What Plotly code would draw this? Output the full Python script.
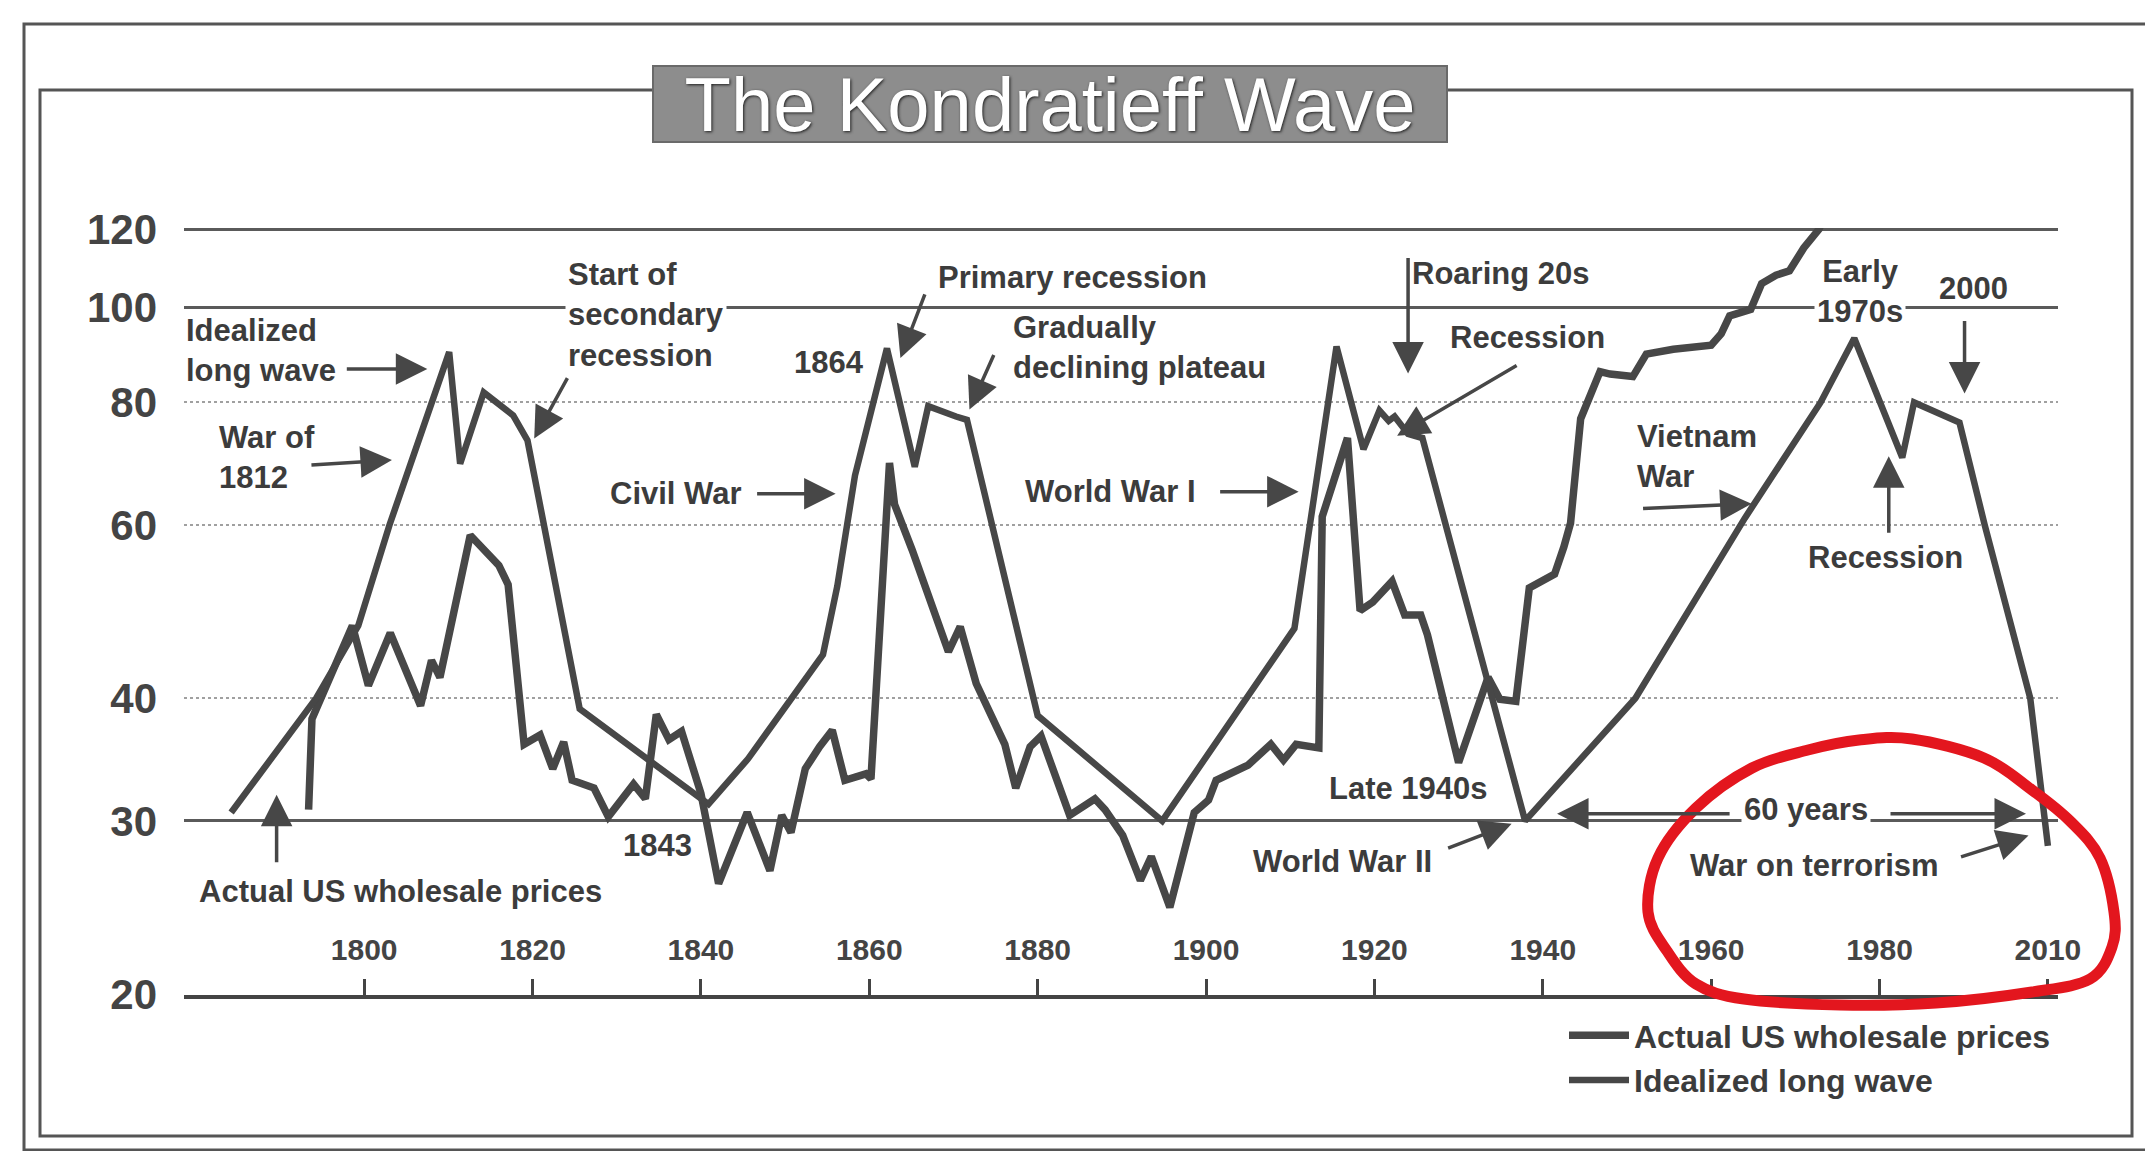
import numpy as np
import plotly.graph_objects as go

# ---------------- data ----------------
actual_year = [1793.4, 1793.8, 1798.6, 1800.5, 1803.1, 1806.7, 1808.0, 1809.0, 1812.6, 1816.0,
               1817.1, 1818.6, 1819.0, 1820.9, 1822.4, 1823.7, 1824.7, 1827.3, 1829.0, 1832.0,
               1833.4, 1834.7, 1836.2, 1837.7, 1840.0, 1842.1, 1845.5, 1848.2, 1849.6, 1850.7,
               1852.4, 1854.1, 1855.6, 1857.1, 1859.6, 1860.2, 1862.4, 1863.0, 1865.1, 1869.4,
               1870.8, 1872.7, 1876.1, 1877.4, 1879.1, 1880.4, 1883.8, 1886.8, 1888.0, 1890.1,
               1892.2, 1893.5, 1895.7, 1898.6, 1900.3, 1901.2, 1905.0, 1907.7, 1909.2, 1910.7,
               1913.4, 1913.8, 1916.8, 1918.3, 1919.8, 1922.1, 1923.6, 1925.5, 1926.3, 1930.0,
               1933.5, 1934.9, 1936.8, 1938.4, 1941.4, 1942.5, 1943.3, 1944.5, 1946.8, 1948.0,
               1950.7, 1952.3, 1955.5, 1960.0, 1961.2, 1962.2, 1964.7, 1966.0, 1967.7, 1969.3,
               1971.0, 1972.8, 1973.5]
actual_value = [30.8, 38.1, 47.4, 41.2, 46.6, 39.3, 43.7, 42.0, 58.6, 54.6,
                52.2, 39.9, 35.9, 36.7, 33.9, 36.1, 33.0, 32.4, 30.3, 32.7,
                31.6, 38.5, 36.3, 37.0, 32.0, 25.9, 30.6, 26.7, 30.4, 29.2,
                33.9, 35.7, 37.1, 33.0, 33.5, 33.1, 69.4, 63.0, 56.6, 44.6,
                47.3, 41.4, 35.9, 32.4, 35.7, 36.6, 30.4, 31.6, 30.8, 29.0,
                26.1, 27.6, 24.5, 30.6, 31.5, 33.0, 34.2, 35.9, 34.6, 35.9,
                35.6, 61.2, 73.6, 49.1, 50.1, 52.6, 48.6, 48.6, 46.4, 34.4,
                42.0, 39.9, 39.7, 51.8, 53.5, 57.0, 60.3, 77.0, 86.0, 85.5,
                85.0, 89.6, 90.6, 91.5, 94.0, 98.0, 99.5, 105.7, 107.8, 108.9,
                114.9, 120.0, 124.0]

ideal_year = [1784.2, 1794.3, 1799.3, 1803.0, 1810.1, 1811.4, 1814.2, 1817.7, 1819.4, 1825.6,
              1840.9, 1845.6, 1854.5, 1856.2, 1858.3, 1862.1, 1865.4, 1867.0, 1870.3, 1871.6,
              1880.0, 1894.8, 1910.5, 1915.5, 1918.7, 1920.6, 1921.7, 1922.4, 1924.0, 1925.7,
              1937.9, 1951.0, 1964.0, 1973.0, 1977.0, 1982.7, 1984.1, 1989.5, 1992.5, 1997.9,
              2000.0]
ideal_value = [30.6, 40.0, 47.4, 60.0, 90.0, 69.3, 81.9, 77.6, 73.2, 39.0,
               31.2, 34.7, 44.3, 52.0, 67.4, 90.8, 68.8, 79.3, 77.4, 76.8,
               38.4, 30.0, 47.1, 91.2, 71.7, 78.5, 76.6, 77.4, 74.3, 73.6,
               30.0, 40.0, 61.0, 80.0, 93.0, 70.3, 80.0, 76.3, 60.0, 40.0,
               28.3]

x_tick_years = [1800, 1820, 1840, 1860, 1880, 1900, 1920, 1940, 1960, 1980, 2000]
x_tick_labels = ["1800", "1820", "1840", "1860", "1880", "1900", "1920", "1940", "1960", "1980", "2010"]
y_tick_values = [20, 30, 40, 60, 80, 100, 120]
y_tick_labels = ["20", "30", "40", "60", "80", "100", "120"]
grid_dotted = [40, 60, 80]
grid_solid = [30, 100, 120]

# ---------------- styling / layout helpers ----------------
W, H = 2153, 1151
PL, PR, PT, PB = 176, 2050, 220, 987
LINE = '#474747'
TEXT = '#3c3c3c'
FAM = 'Liberation Sans, Arial, sans-serif'
FONT = dict(family=FAM, size=31, color=TEXT, weight='bold')
YRANGE = [np.log10(19.95), np.log10(120.4)]
XRANGE = [1778.6, 2001.2]


def px_x(px):
    return (px - PL) / (PR - PL)


def px_y(py):
    return (PB - py) / (PB - PT)


fig = go.Figure()
fig.add_trace(go.Scatter(x=actual_year, y=actual_value, mode='lines',
                         name='Actual US wholesale prices',
                         line=dict(color=LINE, width=7.5), hoverinfo='skip'))
fig.add_trace(go.Scatter(x=ideal_year, y=ideal_value, mode='lines',
                         name='Idealized long wave',
                         line=dict(color=LINE, width=6.5), hoverinfo='skip'))
# empty helper traces so the grid-only overlay axes are drawn
fig.add_trace(go.Scatter(x=[], y=[], yaxis='y2', showlegend=False, hoverinfo='skip'))
fig.add_trace(go.Scatter(x=[], y=[], yaxis='y3', showlegend=False, hoverinfo='skip'))

ann = []


def note(text, year, val, bg=None, **kw):
    d = dict(x=year, y=float(np.log10(val)), xref='x', yref='y', text=text,
             showarrow=False, font=FONT)
    if bg:
        d.update(bgcolor=bg, borderpad=2)
    d.update(kw)
    ann.append(d)


def arrow(year, val, ax, ay):
    ann.append(dict(x=year, y=float(np.log10(val)), xref='x', yref='y', text='',
                    showarrow=True, ax=ax, ay=ay, arrowhead=2, arrowsize=1.8,
                    arrowwidth=3.5, arrowcolor=LINE))


note('Idealized<br>long wave', 1778.6, 90.4, xanchor='left', align='left')
arrow(1807.5, 86.5, -82, 0)
note('War of<br>1812', 1782.5, 70.3, xanchor='left', align='left')
arrow(1803.3, 69.9, -82, 5)
note('Start of<br>secondary<br>recession', 1823.8, 98.1, bg='white', xanchor='left', align='left')
arrow(1820.2, 73.5, 34, -62)
note('Primary recession', 1884.1, 107.3)
arrow(1863.7, 88.8, 25, -65)
note('1864', 1855.2, 87.9)
note('Gradually<br>declining plateau', 1876.8, 91.0, xanchor='left', align='left')
arrow(1871.9, 78.7, 25, -56)
note('Civil War', 1837.1, 64.6)
arrow(1856.0, 64.6, -80, 0)
note('World War I', 1888.7, 64.9)
arrow(1911.0, 64.9, -80, 0)
note('Roaring 20s', 1935.0, 108.3)
arrow(1924.0, 85.6, 0, -117)
note('Recession', 1938.2, 93.1)
arrow(1922.7, 74.0, 121, -71)
note('Early<br>1970s', 1977.7, 103.7, bg='white')
note('2000', 1991.2, 104.6)
arrow(1990.1, 81.7, 0, -74)
note('Vietnam<br>War', 1951.0, 70.5, xanchor='left', align='left')
arrow(1964.8, 63.1, -110, 5)
note('Recession', 1980.7, 55.6)
arrow(1981.1, 70.5, 0, 78)
note('1843', 1834.8, 28.3)
note('Actual US wholesale prices', 1804.3, 25.4)
arrow(1789.6, 31.9, 0, 69)
note('Late 1940s', 1924.0, 32.4)
note('World War II', 1916.2, 27.3)
arrow(1936.3, 29.8, -65, 25)
note('60 years', 1971.3, 30.8, bg='white')
arrow(1941.7, 30.5, 174, 0)
arrow(1997.4, 30.5, -137, 0)
note('War on terrorism', 1972.3, 27.0)
arrow(1997.7, 29.0, -69, 22)

# title box
ann.append(dict(xref='paper', yref='paper', x=px_x(1042), y=px_y(96),
                text='The Kondratieff Wave', showarrow=False,
                font=dict(family=FAM, size=76, color='white', shadow='1px 1px 3px #1e1e1e'),
                bgcolor='#8d8d8d', bordercolor='#6a6a6a', borderwidth=2,
                width=790, height=72, xanchor='center', yanchor='middle'))

shapes = []
# double frame
for (x0, y0, x1, y1) in [(16, 16, 2140, 1142), (32, 82, 2124, 1128)]:
    shapes.append(dict(type='rect', xref='paper', yref='paper', layer='below',
                       x0=px_x(x0), x1=px_x(x1), y0=px_y(y1), y1=px_y(y0),
                       line=dict(color='#555555', width=3)))

# hand-drawn red loop (smooth closed path through points)
loop = [(1851, 732), (1904, 731), (1976, 750), (2024, 782), (2063, 814), (2092, 850),
        (2106, 904), (2104, 939), (2082, 971), (2024, 984), (1928, 995), (1832, 997),
        (1736, 991), (1688, 976), (1659, 943), (1640, 904), (1650, 850), (1688, 800),
        (1744, 760), (1800, 742)]
P = [(px_x(a), px_y(b)) for a, b in loop]
n = len(P)
path = f"M {P[0][0]:.5f},{P[0][1]:.5f}"
for i in range(n):
    p0, p1, p2, p3 = P[i - 1], P[i], P[(i + 1) % n], P[(i + 2) % n]
    c1 = (p1[0] + (p2[0] - p0[0]) / 6, p1[1] + (p2[1] - p0[1]) / 6)
    c2 = (p2[0] - (p3[0] - p1[0]) / 6, p2[1] - (p3[1] - p1[1]) / 6)
    path += f" C {c1[0]:.5f},{c1[1]:.5f} {c2[0]:.5f},{c2[1]:.5f} {p2[0]:.5f},{p2[1]:.5f}"
path += " Z"
shapes.append(dict(type='path', xref='paper', yref='paper', path=path,
                   line=dict(color='#e3161e', width=11), layer='above'))

tickfont_y = dict(family=FAM, size=42, color='#444444', weight='bold')
tickfont_x = dict(family=FAM, size=30, color='#444444', weight='bold')

fig.update_layout(
    width=W, height=H, autosize=False,
    margin=dict(l=PL, r=W - PR, t=PT, b=H - PB, autoexpand=False),
    paper_bgcolor='white', plot_bgcolor='white',
    hovermode=False,
    xaxis=dict(range=XRANGE, tickvals=x_tick_years, ticktext=x_tick_labels,
               ticks='inside', ticklen=16, tickwidth=3, tickcolor='#444444',
               ticklabelposition='inside', ticklabeloverflow='allow',
               ticklabelstandoff=16,
               showline=True, linecolor='#444444', linewidth=4,
               showgrid=False, zeroline=False, tickfont=tickfont_x),
    yaxis=dict(type='log', range=YRANGE, tickvals=y_tick_values, ticktext=y_tick_labels,
               ticks='', showgrid=False, zeroline=False, showline=False,
               tickfont=tickfont_y, ticklabelstandoff=26),
    yaxis2=dict(type='log', range=YRANGE, overlaying='y', tickvals=grid_dotted,
                showticklabels=False, ticks='', showgrid=True, gridcolor='#a0a0a0',
                gridwidth=2, griddash='dot', zeroline=False, showline=False),
    yaxis3=dict(type='log', range=YRANGE, overlaying='y', tickvals=grid_solid,
                showticklabels=False, ticks='', showgrid=True, gridcolor='#5a5a5a',
                gridwidth=2.5, zeroline=False, showline=False),
    legend=dict(xref='container', yref='container', x=1556 / W, y=1 - 1000 / H,
                xanchor='left', yanchor='top', bgcolor='rgba(0,0,0,0)',
                font=dict(family=FAM, size=32, color=TEXT, weight='bold'),
                itemwidth=60, tracegroupgap=0),
    annotations=ann,
    shapes=shapes,
)

fig.write_html("out.html")
